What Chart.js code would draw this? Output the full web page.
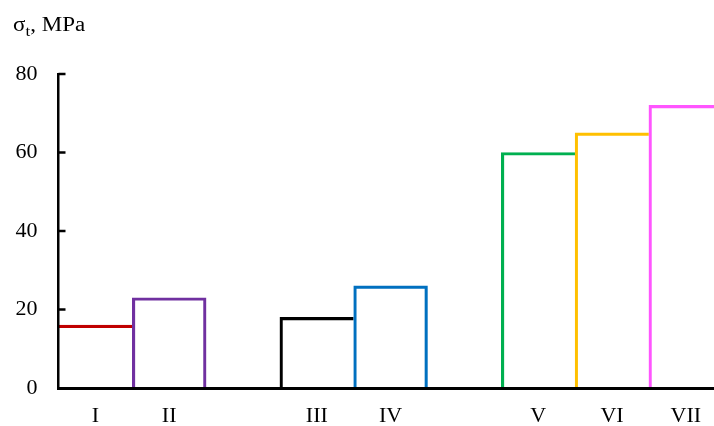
<!DOCTYPE html>
<html>
<head>
<meta charset="utf-8">
<title>Tensile strength</title>
<script src="https://cdn.jsdelivr.net/npm/chart.js@4.4.1/dist/chart.umd.min.js"></script>
<style>
	html, body { margin: 0; padding: 0; overflow: hidden; background: #fff; }
	#wrap { width: 730px; height: 426px; }
</style>
</head>
<body>
<div id="wrap"><canvas id="strengthChart" width="730" height="426"></canvas></div>
<script>
// samples, empty strings are the gaps between groups
const categories = ['I', 'II', '', 'III', 'IV', '', 'V', 'VI', 'VII'];
const strengthValues = [16, 23, null, 18, 26, null, 60, 65, 72];
const barColors = ['#c00000', '#7030a0', null, '#000000', '#0070c0', null, '#00b050', '#ffc000', '#ff55ff'];
const yTicks = [0, 20, 40, 60, 80];

const FONT = '"Liberation Serif", "Times New Roman", serif';
const LINE = 2.5;

// short tick marks pointing into the plot, like the original
const innerTicks = {
	id: 'innerTicks',
	afterDatasetsDraw(chart) {
		const { ctx, chartArea, scales } = chart;
		ctx.save();
		ctx.strokeStyle = '#000';
		ctx.lineWidth = LINE;
		for (const v of yTicks) {
			if (v === 0) continue;
			const y = scales.y.getPixelForValue(v);
			ctx.beginPath();
			ctx.moveTo(chartArea.left, y);
			ctx.lineTo(chartArea.left + 7, y);
			ctx.stroke();
		}
		ctx.restore();
	},
};

// axis title with a subscript t
const axisTitle = {
	id: 'axisTitle',
	afterDraw(chart) {
		const ctx = chart.ctx;
		ctx.save();
		ctx.fillStyle = '#000';
		ctx.textBaseline = 'alphabetic';
		ctx.translate(13, 31);
		ctx.scale(1.15, 1);
		let x = 0;
		ctx.font = '20px ' + FONT;
		ctx.fillText('\u03c3', x, 0);
		x += ctx.measureText('\u03c3').width;
		ctx.font = '15px ' + FONT;
		ctx.fillText('t', x, 5);
		x += ctx.measureText('t').width;
		ctx.font = '20px ' + FONT;
		ctx.fillText(', MPa', x, 0);
		ctx.restore();
	},
};

const ctx = document.getElementById('strengthChart').getContext('2d');
new Chart(ctx, {
	type: 'bar',
	data: {
		labels: categories,
		datasets: [
			{
				data: strengthValues,
				backgroundColor: 'rgba(255,255,255,0)',
				borderColor: barColors,
				// shared edges are drawn once, by the bar on the right;
				// the first bar sits on the y axis
				borderWidth: (c) => {
					const i = c.dataIndex;
					const next = strengthValues[i + 1];
					return {
						top: LINE,
						left: i === 0 ? 0 : LINE,
						bottom: 0,
						right: next == null ? LINE : 0,
					};
				},
				borderSkipped: false,
				barPercentage: 1,
				categoryPercentage: 1,
			},
		],
	},
	options: {
		responsive: false,
		animation: false,
		devicePixelRatio: 1,
		layout: {
			padding: { top: 74, right: 7.3, bottom: 0, left: 0 },
		},
		plugins: {
			legend: { display: false },
			tooltip: { enabled: false },
		},
		scales: {
			x: {
				grid: { display: false, drawTicks: false },
				border: { color: '#000', width: 3, z: 1 },
				ticks: {
					color: '#000',
					font: { family: FONT, size: 22 },
					padding: 15,
					maxRotation: 0,
					autoSkip: false,
				},
				afterFit: (scale) => {
					scale.height = 38;
				},
			},
			y: {
				min: 0,
				max: 80,
				grid: { display: false, drawTicks: false },
				border: { color: '#000', width: LINE, z: 1 },
				ticks: {
					stepSize: 20,
					color: '#000',
					font: { family: FONT, size: 22 },
					padding: 21,
				},
				afterFit: (scale) => {
					scale.width = 58.5;
				},
			},
		},
	},
	plugins: [innerTicks, axisTitle],
});
</script>
</body>
</html>
